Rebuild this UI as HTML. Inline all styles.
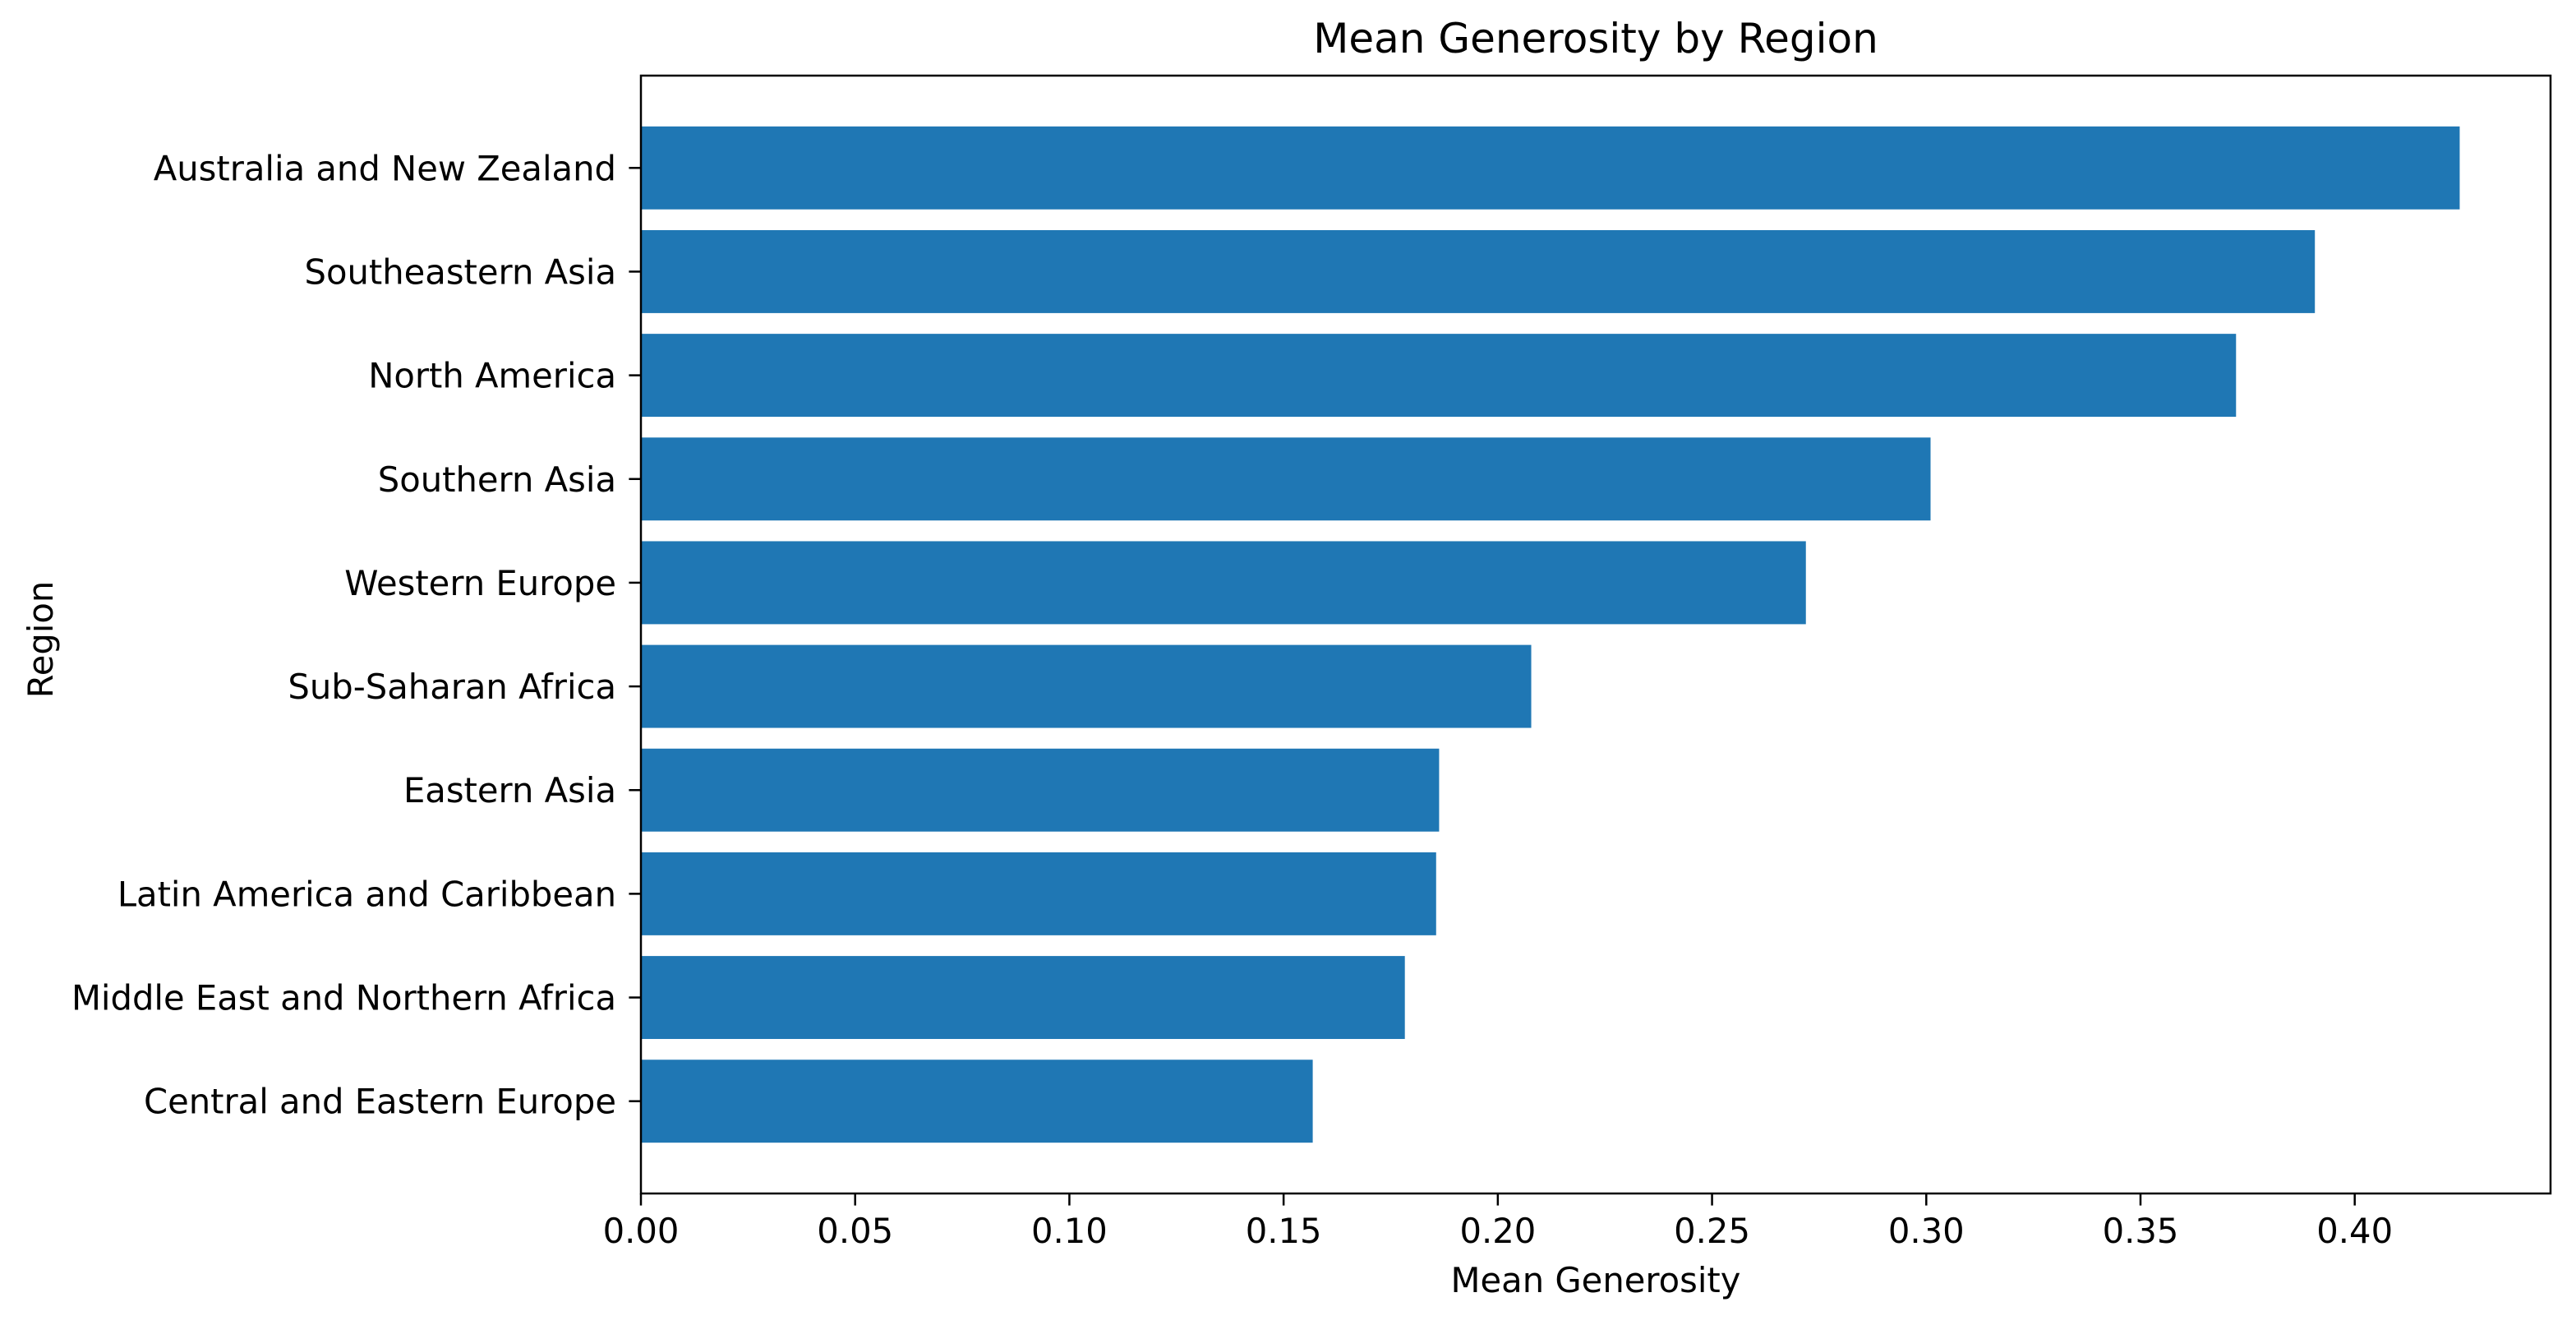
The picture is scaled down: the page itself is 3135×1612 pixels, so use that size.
<!DOCTYPE html>
<html><head><meta charset="utf-8"><style>
html,body{margin:0;padding:0;background:#fff;}
svg text{font-family:"DejaVu Sans","Liberation Sans",sans-serif;fill:#000;}
</style></head><body>
<svg id="chart" width="3135" height="1607" viewBox="0 0 3135 1607" xmlns="http://www.w3.org/2000/svg">
<rect width="3135" height="1607" fill="#fff"/>
<text x="1942" y="64" font-size="50" text-anchor="middle">Mean Generosity by Region</text>
<text x="1942" y="1572" font-size="41.7" text-anchor="middle">Mean Generosity</text>
<text x="64" y="778" font-size="41.7" text-anchor="middle" transform="rotate(-90 64 778)">Region</text>
<g id="bars"></g>
<g id="axes"></g>
</svg>
<script>
const categories = ["Australia and New Zealand","Southeastern Asia","North America","Southern Asia","Western Europe","Sub-Saharan Africa","Eastern Asia","Latin America and Caribbean","Middle East and Northern Africa","Central and Eastern Europe"];
const values = [0.4245,0.3907,0.3723,0.3010,0.2719,0.2078,0.1863,0.1856,0.1783,0.1568];
const xTicks = [0,0.05,0.10,0.15,0.20,0.25,0.30,0.35,0.40];
const xTickLabels = ["0.00","0.05","0.10","0.15","0.20","0.25","0.30","0.35","0.40"];

const L=780, R=3104, T=92, B=1452;
const xMax = 0.4457;
const n = categories.length;
const yMin = -0.89, yMax = n - 1 + 0.89;
const x = v => L + v / xMax * (R - L);
const y = i => T + (i - yMin) / (yMax - yMin) * (B - T);
const unit = (B - T) / (yMax - yMin);
const NS = "http://www.w3.org/2000/svg";
const bars = document.getElementById('bars');
const axes = document.getElementById('axes');

function mk(tag, attrs, parent){
  const e=document.createElementNS(NS,tag);
  for(const k in attrs) e.setAttribute(k,attrs[k]);
  parent.appendChild(e); return e;
}

categories.forEach((c,i)=>{
  const r=mk('rect',{x:L,y:y(i)-0.4*unit,width:x(values[i])-L,height:0.8*unit,fill:'#1f77b4'},bars);
  
  
  const t=mk('line',{x1:L-14.6,x2:L,y1:y(i),y2:y(i),stroke:'#000','stroke-width':2.5},axes);
  
  
  const lb=mk('text',{x:L-30,y:y(i)+15,'font-size':41.7,'text-anchor':'end'},axes);
  lb.textContent=c;
  
  
});

xTicks.forEach((v,i)=>{
  const t=mk('line',{x1:x(v),x2:x(v),y1:B,y2:B+14.6,stroke:'#000','stroke-width':2.5},axes);
  
  
  const lb=mk('text',{x:x(v),y:B+60,'font-size':41.7,'text-anchor':'middle'},axes);
  lb.textContent=xTickLabels[i];
  
  
});

const frame=mk('rect',{x:L,y:T,width:R-L,height:B-T,fill:'none',stroke:'#000','stroke-width':2.5},axes);


</script>
</body></html>
